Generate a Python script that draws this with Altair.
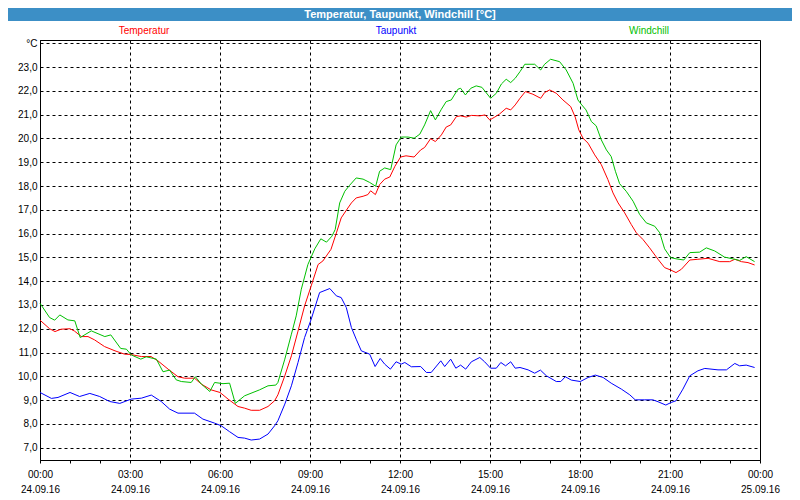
import altair as alt
import pandas as pd

# ---- data (hours since 24.09.16 00:00, °C) ----
temp_h = [0, 0.32, 0.5, 0.7, 1.0, 1.15, 1.38, 1.6, 1.82, 2.15, 2.5, 2.82, 3.0, 3.38, 3.7, 3.93, 4.27, 4.6, 4.82, 5.15,
          5.38, 5.7, 6.0, 6.27, 6.6, 6.82, 7.04, 7.32, 7.6, 7.82, 7.93, 8.16, 8.38, 8.6, 8.82, 9.04, 9.27, 9.43, 9.7,
          9.88, 10.04, 10.21, 10.38, 10.54, 10.77, 10.93, 11.02, 11.18, 11.32, 11.49, 11.66, 11.83, 12.02, 12.2, 12.47,
          12.69, 12.82, 13.02, 13.18, 13.38, 13.54, 13.69, 13.88, 14.02, 14.21, 14.38, 14.66, 14.84, 14.99, 15.16,
          15.32, 15.54, 15.69, 15.84, 16.0, 16.18, 16.43, 16.69, 16.82, 16.99, 17.21, 17.43, 17.69, 17.84, 17.96,
          18.1, 18.27, 18.49, 18.71, 18.93, 19.1, 19.27, 19.49, 19.71, 19.88, 20.1, 20.32, 20.6, 20.82, 21.02, 21.2,
          21.38, 21.66, 21.93, 22.27, 22.66, 22.99, 23.16, 23.38, 23.6, 23.82]
temp_v = [12.36, 12.0, 11.88, 11.98, 12.0, 11.9, 11.67, 11.67, 11.53, 11.25, 11.07, 10.93, 10.92, 10.83, 10.83, 10.65,
          10.3, 9.98, 9.92, 9.92, 9.67, 9.43, 9.32, 9.04, 8.73, 8.66, 8.57, 8.57, 8.73, 8.97, 9.22, 10.02, 10.86, 11.9,
          12.96, 13.8, 14.7, 14.85, 15.34, 16.03, 16.66, 16.98, 17.29, 17.5, 17.57, 17.64, 17.8, 17.64, 18.06, 18.29,
          18.38, 18.83, 19.22, 19.27, 19.22, 19.52, 19.62, 19.99, 19.87, 20.15, 20.48, 20.57, 20.92, 20.95, 20.9,
          20.97, 20.95, 20.99, 20.78, 20.9, 21.03, 21.27, 21.2, 21.41, 21.69, 21.97, 21.86, 21.69, 21.93, 22.04,
          21.9, 21.62, 21.34, 20.9, 20.36, 20.01, 19.8, 19.31, 18.9, 18.27, 17.71, 17.29, 16.87, 16.38, 16.03,
          15.75, 15.4, 14.92, 14.57, 14.47, 14.36, 14.5, 14.89, 14.92, 14.96, 14.82, 14.82, 14.92, 14.82, 14.78,
          14.68]

dew_h = [0, 0.38, 0.6, 1.0, 1.32, 1.66, 1.99, 2.32, 2.66, 3.04, 3.38, 3.71, 4.04, 4.32, 4.6, 5.15, 5.43, 5.82, 6.04,
         6.32, 6.6, 6.82, 7.04, 7.32, 7.6, 7.82, 7.93, 8.16, 8.38, 8.6, 8.82, 9.04, 9.32, 9.66, 9.88, 10.04, 10.21,
         10.38, 10.54, 10.71, 10.99, 11.17, 11.34, 11.49, 11.68, 11.87, 12.04, 12.16, 12.38, 12.69, 12.88, 13.04,
         13.36, 13.49, 13.69, 13.86, 14.02, 14.19, 14.38, 14.66, 14.82, 15.02, 15.21, 15.36, 15.52, 15.69, 15.84,
         16.0, 16.27, 16.49, 16.68, 16.88, 17.21, 17.36, 17.51, 17.71, 18.01, 18.27, 18.51, 18.77, 19.04, 19.38,
         19.66, 19.84, 20.16, 20.43, 20.6, 20.86, 21.04, 21.2, 21.43, 21.66, 21.93, 22.16, 22.6, 22.88, 23.16,
         23.32, 23.54, 23.82]
dew_v = [9.32, 9.07, 9.11, 9.32, 9.15, 9.28, 9.15, 8.94, 8.86, 9.04, 9.08, 9.21, 8.94, 8.62, 8.45, 8.45, 8.2, 8.03,
         7.92, 7.67, 7.43, 7.4, 7.32, 7.36, 7.57, 7.92, 8.13, 8.83, 9.6, 10.58, 11.63, 12.4, 13.52, 13.69, 13.38,
         13.31, 12.89, 12.05, 11.56, 11.07, 10.93, 10.41, 10.75, 10.51, 10.3, 10.61, 10.51, 10.58, 10.4, 10.41,
         10.16, 10.16, 10.65, 10.41, 10.72, 10.34, 10.47, 10.3, 10.61, 10.79, 10.61, 10.34, 10.34, 10.58, 10.44,
         10.61, 10.34, 10.37, 10.27, 10.13, 10.26, 10.02, 9.78, 9.78, 9.98, 9.84, 9.78, 9.95, 10.05, 9.95, 9.71,
         9.46, 9.22, 9.01, 9.01, 9.01, 8.93, 8.79, 8.9, 8.97, 9.46, 10.02, 10.23, 10.33, 10.27, 10.27, 10.54,
         10.44, 10.47, 10.37]

wind_h = [0, 0.32, 0.49, 0.66, 0.93, 1.16, 1.34, 1.71, 2.16, 2.36, 2.69, 2.88, 3.04, 3.36, 3.54, 3.88, 4.1, 4.32,
          4.54, 4.71, 5.04, 5.18, 5.38, 5.66, 5.82, 6.1, 6.32, 6.51, 6.82, 7.32, 7.6, 7.86, 7.93, 8.16, 8.38, 8.54,
          8.71, 8.93, 9.16, 9.36, 9.55, 9.73, 9.84, 9.99, 10.16, 10.32, 10.54, 10.77, 10.99, 11.19, 11.32, 11.49,
          11.69, 11.87, 12.04, 12.27, 12.47, 12.66, 12.82, 13.02, 13.18, 13.38, 13.54, 13.71, 13.93, 14.02, 14.18,
          14.36, 14.54, 14.73, 15.02, 15.21, 15.38, 15.54, 15.69, 15.84, 16.0, 16.16, 16.49, 16.69, 16.82, 17.02,
          17.32, 17.54, 17.77, 17.93, 18.06, 18.2, 18.38, 18.54, 18.71, 18.88, 19.04, 19.18, 19.32, 19.54, 19.77,
          19.99, 20.21, 20.49, 20.66, 20.82, 21.02, 21.2, 21.46, 21.66, 21.99, 22.21, 22.49, 22.82, 23.16, 23.32,
          23.54, 23.82]
wind_v = [13.07, 12.47, 12.36, 12.58, 12.37, 12.33, 11.63, 11.91, 11.67, 11.74, 11.17, 11.14, 10.9, 10.72, 10.82,
          10.72, 10.19, 10.26, 9.85, 9.78, 9.74, 9.98, 9.67, 9.36, 9.74, 9.69, 9.71, 8.86, 9.18, 9.43, 9.6, 9.63,
          9.74, 10.72, 11.77, 12.54, 13.66, 14.7, 15.36, 15.78, 15.64, 15.89, 16.17, 17.29, 17.78, 18.03, 18.34,
          18.29, 18.15, 17.99, 18.62, 18.76, 18.69, 19.73, 20.06, 20.06, 20.01, 20.18, 20.57, 21.17, 20.78, 21.23,
          21.55, 21.62, 22.07, 22.11, 21.83, 22.11, 22.21, 22.15, 21.69, 21.9, 22.29, 22.49, 22.35, 22.53, 22.81,
          23.12, 23.12, 22.88, 23.12, 23.33, 23.23, 22.88, 22.32, 21.62, 21.41, 21.2, 20.71, 20.53, 19.94, 19.52,
          19.24, 18.62, 18.1, 17.78, 17.36, 16.8, 16.45, 16.31, 16.03, 15.36, 14.99, 14.94, 14.89, 15.2, 15.22,
          15.4, 15.27, 15.01, 14.92, 14.87, 15.03, 14.82]

series_names = ["Temperatur", "Taupunkt", "Windchill"]
series_colors = ["#ff0000", "#0000ff", "#00c000"]
tick_times = ["00:00", "03:00", "06:00", "09:00", "12:00", "15:00", "18:00", "21:00", "00:00"]
tick_dates = ["24.09.16"] * 8 + ["25.09.16"]
title_text = "Temperatur, Taupunkt, Windchill [°C]"

frames = []
for name, hs, vs in zip(series_names, [temp_h, dew_h, wind_h], [temp_v, dew_v, wind_v]):
    frames.append(pd.DataFrame({"h": hs, "v": vs, "s": name, "o": range(len(hs))}))
df = pd.concat(frames, ignore_index=True)

FONT = "Tahoma, Liberation Sans, Arial, sans-serif"

times_js = "[" + ",".join(f"'{t}'" for t in tick_times) + "]"
dates_js = "[" + ",".join(f"'{d}'" for d in tick_dates) + "]"
x_label_expr = (f"datum.value % 3 == 0 ? [{times_js}[datum.value/3], {dates_js}[datum.value/3]] : ''")

lines = alt.Chart(df).mark_line(strokeWidth=1, interpolate="linear").encode(
    x=alt.X("h:Q", scale=alt.Scale(domain=[0, 24], nice=False, zero=False),
            axis=alt.Axis(values=list(range(25)), title=None, labelExpr=x_label_expr,
                          labelBaseline="top", labelLineHeight=15, labelPadding=6,
                          tickSize=3, tickColor="black", domainColor="black",
                          labelFont=FONT, labelFontSize=10, labelColor="black",
                          labelOverlap=False, labelBound=False, labelFlush=False,
                          grid=True, gridColor="black", gridDash=[3, 3],
                          gridOpacity={"condition": {"test": "datum.value % 3 == 0", "value": 1}, "value": 0})),
    y=alt.Y("v:Q", scale=alt.Scale(domain=[6.48, 24.14], nice=False, zero=False),
            axis=alt.Axis(values=list(range(7, 25)), title=None, ticks=False, labelPadding=3,
                          labelExpr="datum.value == 24 ? '°C' : replace(format(datum.value, '.1f'), '.', ',')",
                          domainColor="black", labelFont=FONT, labelFontSize=10, labelColor="black",
                          grid=True, gridColor="black", gridDash=[3, 3])),
    color=alt.Color("s:N", scale=alt.Scale(domain=series_names, range=series_colors), legend=None),
    order="o:Q",
)

one = pd.DataFrame({"a": [0]})
bar = alt.Chart(one).mark_rect(color="#3c8fc6").encode(
    x=alt.value(-32), x2=alt.value(752), y=alt.value(-32), y2=alt.value(-19))
title = alt.Chart(one).mark_text(text=title_text, color="white", fontWeight="bold", font=FONT,
                                 fontSize=11, align="center", baseline="middle").encode(
    x=alt.value(360), y=alt.value(-25))

legend_x = [104, 356, 609]
legend_layers = []
for name, col, lx in zip(series_names, series_colors, legend_x):
    legend_layers.append(alt.Chart(one).mark_text(text=name, color=col, font=FONT, fontSize=10,
                                                  align="center", baseline="middle").encode(
        x=alt.value(lx), y=alt.value(-9)))

chart = alt.layer(lines, bar, title, *legend_layers).properties(
    width=720, height=420, autosize="none",
    padding={"left": 32, "top": 32, "right": 32, "bottom": 40},
    background="white",
).configure_view(stroke="black", strokeWidth=1)

chart.save("out.html", embed_options={"renderer": "svg", "actions": False})
